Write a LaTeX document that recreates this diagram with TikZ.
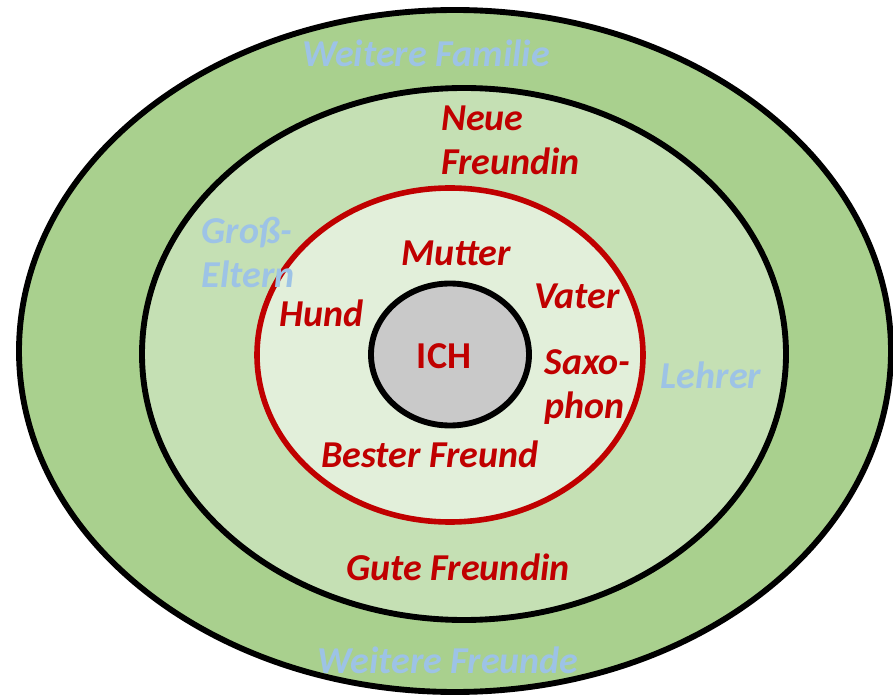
\documentclass[tikz,border=0pt]{standalone}
\usepackage{fontspec}
\setmainfont{Carlito}
\usepackage{tikz}
\definecolor{ringfar}{RGB}{169,208,142}
\definecolor{ringmid}{RGB}{197,224,180}
\definecolor{ringnear}{RGB}{226,239,218}
\definecolor{corefill}{RGB}{201,201,201}
\definecolor{nearred}{RGB}{192,0,0}
\definecolor{farblue}{RGB}{157,195,230}
\tikzset{
  ring/.style  ={draw=black, line width=4.4pt},
  ringr/.style ={draw=nearred, line width=4.2pt},
  lab/.style   ={font=\fontsize{28.5}{33}\selectfont\bfseries\itshape, inner sep=0pt, align=left},
  labn/.style  ={lab, text=nearred},
  labf/.style  ={lab, text=farblue},
}

\begin{document}
\begin{tikzpicture}[x=0.75pt,y=-0.75pt]
  \useasboundingbox (0,0) rectangle (893,695);
  \clip (0,0) rectangle (893,695);
  \fill[white] (0,0) rectangle (893,695);
  % rings, outside in
  \filldraw[ring,fill=ringfar] (455,351) ellipse [x radius=436, y radius=341];
  \filldraw[ring,fill=ringmid] (464,354) ellipse [x radius=322, y radius=266];
  \filldraw[ringr,fill=ringnear] (450,355) ellipse [x radius=193, y radius=167];
  \filldraw[ring,fill=corefill] (450,354.5) ellipse [x radius=79, y radius=71];
  % centre
  \node[lab,text=nearred,font=\fontsize{28.5}{33}\selectfont\bfseries] (ich) at (444,356) {ICH};
  % inner ring
  \node[labn] (mutter) at (456,253) {Mutter};
  \node[labn] (hund) at (322,313) {Hund};
  \node[labn] (vater) at (577,296) {Vater};
  \node[labn] (saxo) at (587.5,387) {Saxo-\\phon};
  \node[labn] (bester) at (430,454) {Bester Freund};
  % middle ring
  \node[labn] (neue) at (510.5,140) {Neue\\Freundin};
  \node[labn] (gute) at (458,567) {Gute Freundin};
  \node[labf] (gross) at (248,252) {Groß-\\Eltern};
  \node[labf] (lehrer) at (711,375) {Lehrer};
  % outer ring
  \node[labf] (familie) at (426,53) {Weitere Familie};
  \node[labf] (freunde) at (448,660) {Weitere Freunde};
\end{tikzpicture}
\end{document}
